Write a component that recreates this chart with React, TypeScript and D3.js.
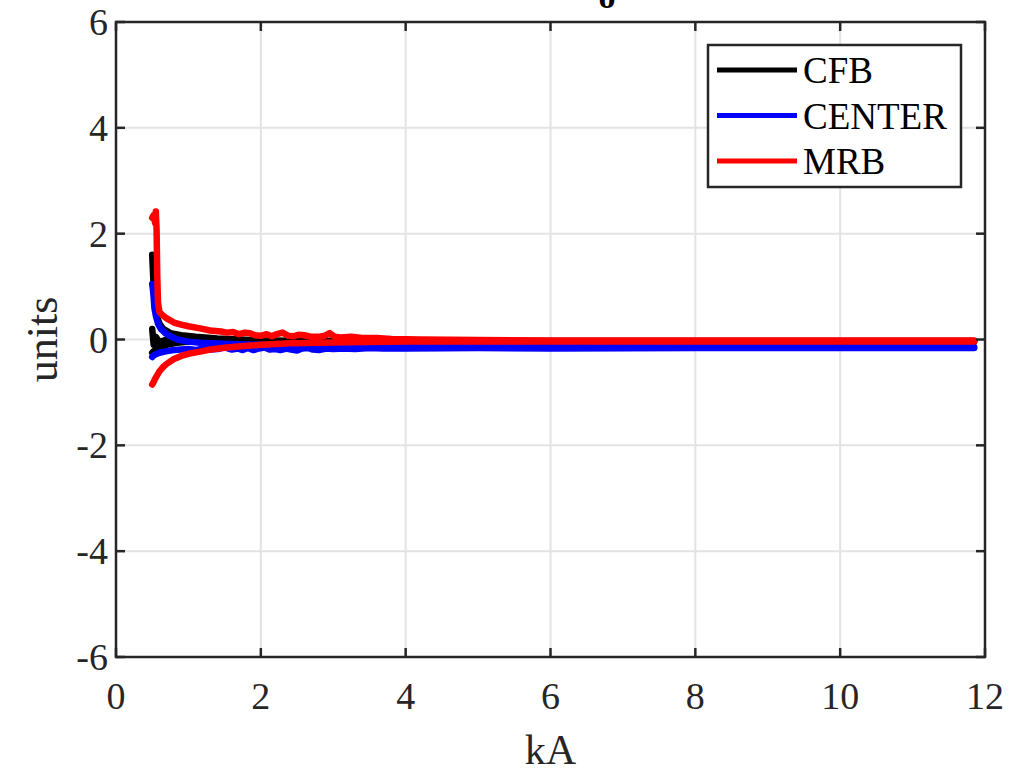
import React from "react";
import * as d3 from "d3";

type P = [number, number];

const xTicks = [0, 2, 4, 6, 8, 10, 12];
const yTicks = [-6, -4, -2, 0, 2, 4, 6];
const seriesNames = ["CFB", "CENTER", "MRB"];
const seriesColors = ["#000000", "#0000ff", "#ff0000"];

const cfbUpper: P[] = [
  [0.5, 1.6], [0.51, 1.3], [0.52, 1.0], [0.54, 0.7], [0.56, 0.45], [0.6, 0.3], [0.65, 0.2],
  [0.75, 0.12], [0.9, 0.08], [1.1, 0.05], [1.4, 0.02], [1.7, 0.0], [2.0, -0.02], [4, -0.04], [11.85, -0.04],
];
const cfbMid: P[] = [
  [0.5, 0.2], [0.52, -0.1], [0.55, 0.05], [0.6, -0.05], [0.7, 0.0], [0.9, -0.02], [1.3, -0.02], [2.0, -0.03],
];
const cfbLower: P[] = [
  [0.5, -0.25], [0.52, -0.22], [0.55, -0.2], [0.6, -0.14], [0.7, -0.1], [0.85, -0.06], [1.0, -0.04],
  [1.4, -0.03], [2.0, -0.03], [11.85, -0.03],
];
const centerUpper: P[] = [
  [0.5, 1.05], [0.51, 0.95], [0.52, 0.8], [0.53, 0.6], [0.55, 0.45], [0.58, 0.3], [0.62, 0.2],
  [0.68, 0.12], [0.75, 0.06], [0.85, 0.0], [1.0, -0.04], [1.16, -0.06], [1.5, -0.08], [2.0, -0.1],
  [3.0, -0.12], [4.0, -0.13], [6, -0.14], [11.85, -0.14],
];
const centerLower: P[] = [
  [0.5, -0.33], [0.52, -0.3], [0.55, -0.28], [0.6, -0.25], [0.7, -0.22], [0.8, -0.2], [0.9, -0.19],
  [1.0, -0.18], [1.1, -0.2], [1.2, -0.17], [1.3, -0.19], [1.4, -0.18], [1.5, -0.15], [1.6, -0.19],
  [1.68, -0.17], [1.75, -0.2], [1.82, -0.16], [1.9, -0.2], [1.97, -0.17], [2.05, -0.15], [2.12, -0.19],
  [2.2, -0.18], [2.27, -0.2], [2.35, -0.17], [2.42, -0.19], [2.5, -0.21], [2.57, -0.17], [2.65, -0.16],
  [2.72, -0.19], [2.8, -0.2], [2.9, -0.17], [3.0, -0.18], [3.15, -0.17], [3.3, -0.18], [3.5, -0.16],
  [3.7, -0.17], [4.0, -0.17], [5, -0.16], [6, -0.17], [8, -0.16], [11.85, -0.16],
];
const mrbUpper: P[] = [
  [0.5, 2.3], [0.52, 2.35], [0.54, 2.2], [0.55, 2.42], [0.56, 2.1], [0.57, 1.2], [0.58, 0.7],
  [0.6, 0.52], [0.65, 0.45], [0.7, 0.4], [0.8, 0.32], [0.9, 0.28], [1.0, 0.25], [1.16, 0.21],
  [1.3, 0.17], [1.45, 0.15], [1.53, 0.13], [1.62, 0.14], [1.7, 0.1], [1.78, 0.13], [1.85, 0.12],
  [1.92, 0.08], [2.0, 0.07], [2.08, 0.1], [2.15, 0.06], [2.2, 0.09], [2.3, 0.13], [2.38, 0.07],
  [2.45, 0.06], [2.52, 0.09], [2.6, 0.08], [2.7, 0.05], [2.8, 0.05], [2.88, 0.07], [2.95, 0.12],
  [3.02, 0.05], [3.1, 0.04], [3.25, 0.05], [3.4, 0.03], [3.6, 0.03], [3.8, 0.01],
  [4.2, 0.0], [5.0, -0.01], [6.0, -0.02], [8.0, -0.02], [10.0, -0.02], [11.85, -0.02],
];
const mrbLower: P[] = [
  [0.5, -0.85], [0.52, -0.8], [0.55, -0.72], [0.6, -0.6], [0.65, -0.52], [0.7, -0.46], [0.8, -0.37],
  [0.9, -0.31], [1.0, -0.27], [1.16, -0.23], [1.3, -0.19], [1.53, -0.15], [1.8, -0.12], [2.0, -0.1],
  [2.4, -0.07], [2.8, -0.06], [3.2, -0.05], [4.0, -0.04], [6, -0.04], [8, -0.04], [11.85, -0.04],
];

const seriesLines: P[][][] = [
  [cfbUpper, cfbMid, cfbLower],
  [centerUpper, centerLower],
  [mrbUpper, mrbLower],
];

const W = 1010, H = 774;
const L = 116, R = 985, T = 22, B = 657;
const FONT = "'Liberation Serif', 'Times New Roman', serif";

export default function App() {
  const x = d3.scaleLinear().domain([0, 12]).range([L, R]);
  const y = d3.scaleLinear().domain([-6, 6]).range([B, T]);
  const line = d3.line<P>().x((d) => x(d[0])).y((d) => y(d[1]));
  const tickLen = 9;
  const axisColor = "#262626";
  return (
    <div style={{ position: "absolute", left: 0, top: 0 }}>
      <svg width={W} height={H} style={{ display: "block", background: "#fff" }}>
        <rect x={0} y={0} width={W} height={H} fill="#fff" />
        {xTicks.map((t) => (
          <line key={"gx" + t} x1={x(t)} x2={x(t)} y1={T} y2={B} stroke="#e3e3e3" strokeWidth={2} />
        ))}
        {yTicks.map((t) => (
          <line key={"gy" + t} x1={L} x2={R} y1={y(t)} y2={y(t)} stroke="#e3e3e3" strokeWidth={2} />
        ))}
        <defs>
          <clipPath id="clip"><rect x={L} y={T} width={R - L} height={B - T} /></clipPath>
        </defs>
        <g clipPath="url(#clip)">
          {seriesLines.map((group, i) =>
            group.map((pts, j) => (
              <path key={i + "-" + j} d={line(pts) || ""} fill="none" stroke={seriesColors[i]}
                strokeWidth={6.5} strokeLinejoin="round" strokeLinecap="round" />
            ))
          )}
        </g>
        {xTicks.map((t) => (
          <g key={"tx" + t}>
            <line x1={x(t)} x2={x(t)} y1={B} y2={B - tickLen} stroke={axisColor} strokeWidth={2.5} />
            <line x1={x(t)} x2={x(t)} y1={T} y2={T + tickLen} stroke={axisColor} strokeWidth={2.5} />
            <text x={x(t)} y={B + 52} textAnchor="middle" fontFamily={FONT} fontSize={38} fill="#262626">{t}</text>
          </g>
        ))}
        {yTicks.map((t) => (
          <g key={"ty" + t}>
            <line x1={L} x2={L + tickLen} y1={y(t)} y2={y(t)} stroke={axisColor} strokeWidth={2.5} />
            <line x1={R} x2={R - tickLen} y1={y(t)} y2={y(t)} stroke={axisColor} strokeWidth={2.5} />
            <text x={L - 8} y={y(t) + 13} textAnchor="end" fontFamily={FONT} fontSize={38} fill="#262626">{t}</text>
          </g>
        ))}
        <rect x={L} y={T} width={R - L} height={B - T} fill="none" stroke={axisColor} strokeWidth={2.5} />
        <text x={(L + R) / 2} y={764} textAnchor="middle" fontFamily={FONT} fontSize={42} fill="#262626">kA</text>
        <text transform={`translate(57, ${(T + B) / 2}) rotate(-90)`} textAnchor="middle" fontFamily={FONT} fontSize={44} fill="#262626">units</text>
        <text x={607} y={8} textAnchor="middle" fontFamily={FONT} fontWeight="bold" fontSize={34} fill="#000">o</text>
        <rect x={708} y={45} width={253} height={142} fill="#fff" stroke={axisColor} strokeWidth={2.5} />
        {seriesNames.map((n, i) => (
          <g key={n}>
            <line x1={717} x2={797} y1={70 + i * 45.5} y2={70 + i * 45.5} stroke={seriesColors[i]} strokeWidth={5} />
            <text x={803} y={83 + i * 45.5} fontFamily={FONT} fontSize={37} fill="#000">{n}</text>
          </g>
        ))}
      </svg>
    </div>
  );
}
